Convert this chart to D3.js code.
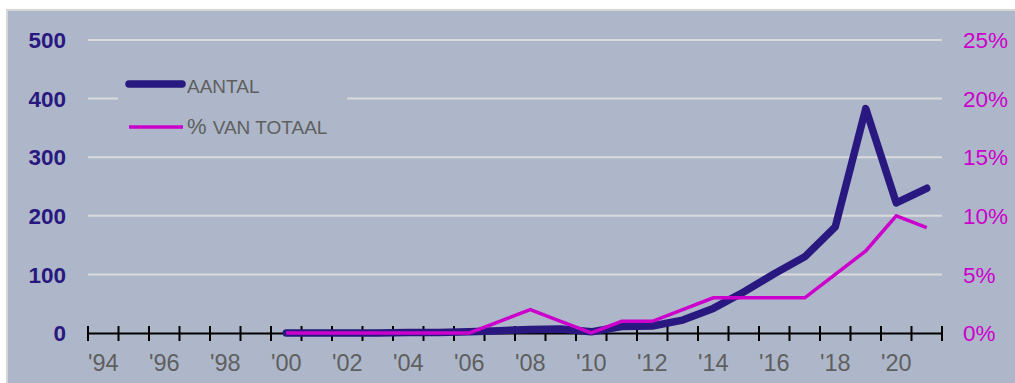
<!DOCTYPE html>
<html><head><meta charset="utf-8">
<script src="https://cdn.jsdelivr.net/npm/d3@7"></script>
<style>html,body{margin:0;padding:0;background:#fff;overflow:hidden}svg{display:block;font-family:"Liberation Sans",Arial,sans-serif}</style>
</head><body><svg id="c" width="1015" height="383"></svg>
<script>
const years = [2000,2001,2002,2003,2004,2005,2006,2007,2008,2009,2010,2011,2012,2013,2014,2015,2016,2017,2018,2019,2020,2021];
const aantal = [0,0,0,0,1,1,2,4,6,7,2,11,12,22,42,70,101,130,181,383,222,247];
const pctVanTotaal = [0,0,0,0,0,0,0,1,2,1,0,1,1,2,3,3,3,3,5,7,10,9];
const xLabels = ["'94","'96","'98","'00","'02","'04","'06","'08","'10","'12","'14","'16","'18","'20"];
const xLabelYears = [1994,1996,1998,2000,2002,2004,2006,2008,2010,2012,2014,2016,2018,2020];
const leftTicks = [0,100,200,300,400,500];
const rightTicks = [0,5,10,15,20,25];
const seriesNames = ["AANTAL","VAN TOTAAL"];

const navy = "#29187f", magenta = "#cc00cc", bg = "#adb7c9", grid = "#dadada", gray = "#5f5f5f";
const svg = d3.select("#c");
svg.append("rect").attr("x",7).attr("y",10).attr("width",1015).attr("height",380)
  .attr("fill",bg).attr("stroke","#d6d6d6").attr("stroke-width",2);

const x = d3.scaleLinear().domain([1993.5,2021.5]).range([88,942]);
const y = d3.scaleLinear().domain([0,500]).range([333,40]);
const y2 = d3.scaleLinear().domain([0,25]).range([333,40]);

// gridlines
svg.append("g").selectAll("line").data(leftTicks.filter(d=>d>0)).join("line")
  .attr("x1",x.range()[0]).attr("x2",x.range()[1])
  .attr("y1",d=>y(d)).attr("y2",d=>y(d)).attr("stroke",grid).attr("stroke-width",2);

// legend box (masks gridline)
svg.append("rect").attr("x",118).attr("y",60).attr("width",229).attr("height",90).attr("fill",bg);

// left labels
svg.append("g").selectAll("text").data(leftTicks).join("text")
  .attr("x",66).attr("y",d=>y(d)).attr("dy","0.36em").attr("text-anchor","end")
  .attr("font-size",22.5).attr("font-weight","bold").attr("fill",navy)
  .text(d=>d);
// right labels
svg.append("g").selectAll("text").data(rightTicks).join("text")
  .attr("x",963).attr("y",d=>y2(d)).attr("dy","0.36em").attr("text-anchor","start")
  .attr("font-size",22.5).attr("fill",magenta)
  .text(d=>d+"%");

// x axis
const xAxis = d3.axisBottom(x).tickValues(d3.range(1993.5,2022,1)).tickSize(0).tickFormat("");
const ax = svg.append("g").attr("transform",`translate(0,${y(0)})`).call(xAxis);
ax.select(".domain").attr("stroke","#000").attr("stroke-width",2);
svg.append("g").selectAll("line").data(d3.range(1993.5,2022,1)).join("line")
  .attr("x1",d=>x(d)).attr("x2",d=>x(d)).attr("y1",y(0)-7).attr("y2",y(0)+8)
  .attr("stroke","#000").attr("stroke-width",2);
svg.append("g").selectAll("text").data(xLabelYears).join("text")
  .attr("x",d=>x(d)).attr("y",371).attr("text-anchor","middle")
  .attr("font-size",23.5).attr("fill",gray)
  .text((d,i)=>xLabels[i]);

// lines
const lineA = d3.line().x((d,i)=>x(years[i])).y(d=>y(d));
const lineP = d3.line().x((d,i)=>x(years[i])).y(d=>y2(d));
svg.append("path").datum(aantal).attr("d",lineA).attr("fill","none")
  .attr("stroke",navy).attr("stroke-width",7.5).attr("stroke-linejoin","round").attr("stroke-linecap","round");
svg.append("path").datum(pctVanTotaal).attr("d",lineP).attr("fill","none")
  .attr("stroke",magenta).attr("stroke-width",3.5).attr("stroke-linejoin","miter");

// legend
const lg = svg.append("g");
lg.append("line").attr("x1",129).attr("x2",182).attr("y1",84).attr("y2",84)
  .attr("stroke",navy).attr("stroke-width",7.5).attr("stroke-linecap","round");
lg.append("text").attr("x",187).attr("y",93).attr("font-size",19).attr("fill",gray).text(seriesNames[0]);
lg.append("line").attr("x1",129).attr("x2",183).attr("y1",127).attr("y2",127)
  .attr("stroke",magenta).attr("stroke-width",3.5);
const t2 = lg.append("text").attr("x",187).attr("y",134).attr("fill",gray);
t2.append("tspan").attr("font-size",22).text("% ");
t2.append("tspan").attr("font-size",19).text(seriesNames[1]);
</script></body></html>
